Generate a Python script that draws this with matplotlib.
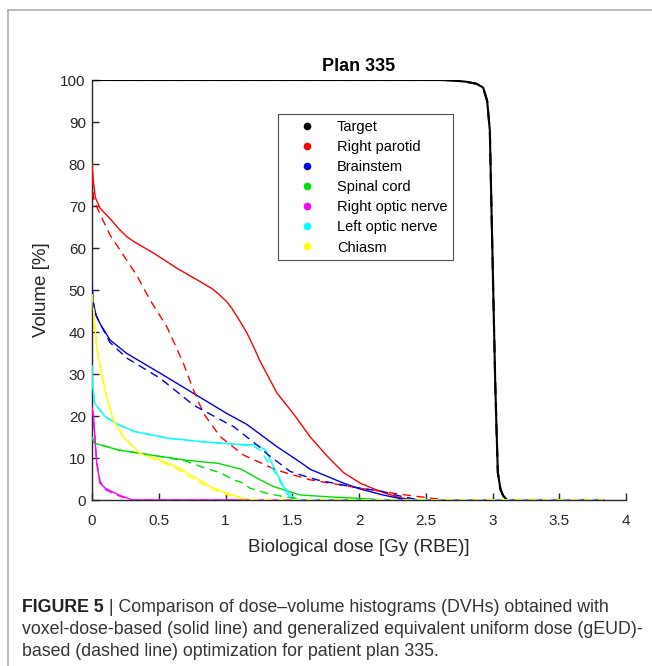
import numpy as np
import matplotlib.pyplot as plt
from matplotlib.lines import Line2D

plt.rcParams['font.family'] = ['Liberation Sans', 'DejaVu Sans']

# Structures (legend order) and colours
structures = ['Target', 'Right parotid', 'Brainstem', 'Spinal cord',
              'Right optic nerve', 'Left optic nerve', 'Chiasm']
colors = ['#000000', '#ff0000', '#0000e0', '#00e000', '#ff00ff', '#00ffff', '#ffff00']

# DVH: dose [Gy (RBE)] and volume [%]
# solid = voxel-dose-based, dashed = gEUD-based
target_d = [0, 2.6, 2.7, 2.8, 2.88, 2.93, 2.96, 2.98, 3.0, 3.02, 3.03, 3.04, 3.06, 3.08, 3.11, 3.83]
target_v = [100, 100, 99.9, 99.6, 99.1, 98.2, 95, 88, 58, 28.5, 17, 6.5, 2.5, 1, 0, 0]
target_gd = target_d
target_gv = target_v

parotid_d = [0, 0.01, 0.025, 0.06, 0.135, 0.2, 0.26, 0.32, 0.385, 0.45, 0.51, 0.635, 0.81,
             0.9, 0.95, 1.01, 1.05, 1.1, 1.16, 1.21, 1.26, 1.385, 1.51, 1.635, 1.76, 1.885,
             2.01, 2.1, 2.2, 2.31, 2.42, 3.83]
parotid_v = [80, 76, 72, 69.5, 67, 64.6, 62.7, 61.4, 60.2, 59, 57.8, 55.2, 52,
             50.3, 49, 47.2, 45.5, 43, 39.8, 36.5, 33, 25.5, 20.5, 15, 10.5, 6.5,
             4, 2.8, 1.6, 0.5, 0, 0]
parotid_gd = [0, 0.01, 0.035, 0.135, 0.26, 0.335, 0.435, 0.56, 0.685, 0.76, 0.835, 0.96,
              1.135, 1.385, 1.635, 2.01, 2.3, 2.5, 2.65, 3.83]
parotid_gv = [80, 72, 69.8, 63.1, 57.1, 53.5, 47.6, 41.3, 32.5, 26.2, 20.6, 15.1,
              10.7, 7.1, 4.8, 2.8, 1.4, 0.6, 0, 0]

brainstem_d = [0, 0.01, 0.03, 0.06, 0.135, 0.26, 0.51, 0.76, 1.01, 1.16, 1.385, 1.56,
               1.635, 1.885, 2.01, 2.18, 2.3, 2.4, 3.83]
brainstem_v = [51, 47, 44, 42, 38.1, 34.9, 30.2, 25.4, 20.6, 18, 12.7, 9,
               7.3, 4, 2.6, 1.2, 0.4, 0, 0]
brainstem_gd = [0, 0.01, 0.03, 0.06, 0.135, 0.26, 0.51, 0.76, 1.01, 1.06, 1.26, 1.31,
                1.485, 1.56, 1.685, 1.935, 2.18, 2.3, 2.45, 3.83]
brainstem_gv = [51, 47, 44, 42, 37.5, 33.8, 29, 22.6, 18.3, 17.5, 12.5, 11,
                6.8, 6, 4.8, 3.2, 2, 1, 0, 0]

cord_d = [0, 0.005, 0.02, 0.2, 0.445, 0.7, 0.95, 1.12, 1.26, 1.36, 1.56, 1.8, 2.0, 2.2, 3.83]
cord_v = [15, 14.5, 13.5, 11.9, 10.7, 9.5, 8.7, 7.3, 4.8, 3.2, 1.2, 0.7, 0.4, 0, 0]
cord_gd = [0, 0.005, 0.02, 0.2, 0.445, 0.7, 0.82, 0.96, 1.06, 1.12, 1.185, 1.31, 1.435, 1.6, 3.83]
cord_gv = [15, 14.5, 13.5, 11.9, 10.7, 9.3, 7.9, 6.5, 4.8, 4.2, 2.8, 1.6, 0.8, 0, 0]

ron_d = [0, 0.01, 0.035, 0.06, 0.1, 0.2, 0.27, 0.3, 3.83]
ron_v = [22, 20.6, 8.7, 4, 2.8, 1.2, 0.4, 0, 0]
ron_gd = ron_d
ron_gv = [22, 20, 9, 4.5, 2.5, 1, 0.3, 0, 0]

lon_d = [0, 0.005, 0.02, 0.1, 0.2, 0.32, 0.57, 0.82, 1.07, 1.235, 1.3, 1.36, 1.435, 1.5, 1.55, 3.83]
lon_v = [32, 27, 23, 19.8, 17.9, 16.3, 14.7, 13.9, 13.3, 13.1, 11.9, 7.9, 3.2, 0.8, 0, 0]
lon_gd = [0, 0.005, 0.02, 0.1, 0.2, 0.32, 0.57, 0.82, 1.07, 1.2, 1.26, 1.36, 1.46, 1.5, 3.83]
lon_gv = [32, 27, 23, 19.8, 17.9, 16.3, 14.7, 13.9, 13.3, 12.9, 11.9, 7.1, 1.6, 0, 0]

chiasm_d = [0, 0.01, 0.02, 0.035, 0.07, 0.11, 0.16, 0.235, 0.36, 0.51, 0.635, 0.76,
            0.885, 1.01, 1.135, 1.2, 3.83]
chiasm_v = [49, 46, 42, 36.5, 30.2, 24.6, 19, 15.1, 11.1, 9.5, 7.9, 5.6,
            3.2, 1.6, 0.4, 0, 0]
chiasm_gd = chiasm_d
chiasm_gv = [49, 46, 42, 36.5, 30.2, 24.6, 19, 15.1, 11.1, 9.2, 7.4, 5.0,
             2.8, 1.3, 0.3, 0, 0]

solid = [(target_d, target_v), (parotid_d, parotid_v), (brainstem_d, brainstem_v),
         (cord_d, cord_v), (ron_d, ron_v), (lon_d, lon_v), (chiasm_d, chiasm_v)]
dashed = [(target_gd, target_gv), (parotid_gd, parotid_gv), (brainstem_gd, brainstem_gv),
          (cord_gd, cord_gv), (ron_gd, ron_gv), (lon_gd, lon_gv), (chiasm_gd, chiasm_gv)]

fig = plt.figure(figsize=(6.52, 6.66), dpi=100)
ax = fig.add_axes([92 / 652, 166 / 666, 534 / 652, 420 / 666])

for (d, v), c in zip(solid, colors):
    ax.plot(d, v, color=c, lw=1.5 if c == '#000000' else 1.0, zorder=3)
for (d, v), c in zip(dashed, colors):
    ax.plot(d, v, color=c, lw=1.5 if c == '#000000' else 1.0,
            linestyle=(0, (6, 4)), zorder=3)

ax.set_xlim(0, 4)
ax.set_ylim(0, 100)
ax.set_xticks(np.arange(0, 4.01, 0.5))
ax.set_xticklabels(['0', '0.5', '1', '1.5', '2', '2.5', '3', '3.5', '4'])
ax.set_yticks(np.arange(0, 101, 10))
ax.tick_params(direction='in', length=5, width=1, labelsize=11,
               colors='#262626')
ax.tick_params(axis='y', pad=4.5)
ax.tick_params(axis='x', pad=10)
for s in ['top', 'right']:
    ax.spines[s].set_visible(False)
for s in ['left', 'bottom']:
    ax.spines[s].set_color('#262626')
    ax.spines[s].set_linewidth(1.0)

ax.set_title('Plan 335', fontsize=13, fontweight='bold', y=1.031, va='center', pad=0)
ax.set_xlabel('Biological dose [Gy (RBE)]', fontsize=13.5, color='#262626', va='center')
ax.xaxis.set_label_coords(0.5, -0.112)
ax.set_ylabel('Volume [%]', fontsize=13.5, color='#262626', va='center')
ax.yaxis.set_label_coords(-0.094, 0.5)

handles = [Line2D([], [], marker='o', linestyle='none', markersize=4.5,
                  color=c) for c in colors]
leg = ax.legend(handles, structures, loc='upper left',
                bbox_to_anchor=(278 / 652, 1 - 114 / 666), bbox_transform=fig.transFigure,
                fontsize=10.5, frameon=True, fancybox=False, edgecolor='#262626',
                borderpad=0.4, handlelength=3.2, handletextpad=0.45, labelspacing=0.42,
                borderaxespad=0)
leg.get_frame().set_linewidth(0.8)
leg.set_zorder(5)

# page border of the figure panel
fig.add_artist(Line2D([8 / 652, 1], [1 - 10 / 666, 1 - 10 / 666],
                      transform=fig.transFigure, color='#b0b0b0', lw=1.2))
fig.add_artist(Line2D([8 / 652, 8 / 652], [0, 1 - 10 / 666],
                      transform=fig.transFigure, color='#b0b0b0', lw=1.2))

# caption
cap_col = '#333333'
lab = fig.text(22 / 652, 1 - 608 / 666, 'FIGURE 5', fontsize=12.8, fontweight='bold',
               color='#222222', va='center')
ax.annotate(' | Comparison of dose\u2013volume histograms (DVHs) obtained with',
            xy=(1, 0), xycoords=lab, fontsize=12.8, color=cap_col,
            va='bottom', ha='left', annotation_clip=False)
fig.text(22 / 652, 1 - 630 / 666,
         'voxel-dose-based (solid line) and generalized equivalent uniform dose (gEUD)-',
         fontsize=12.8, color=cap_col, va='center')
fig.text(22 / 652, 1 - 651 / 666,
         'based (dashed line) optimization for patient plan 335.',
         fontsize=12.8, color=cap_col, va='center')

fig.savefig('out.png', dpi=100)
